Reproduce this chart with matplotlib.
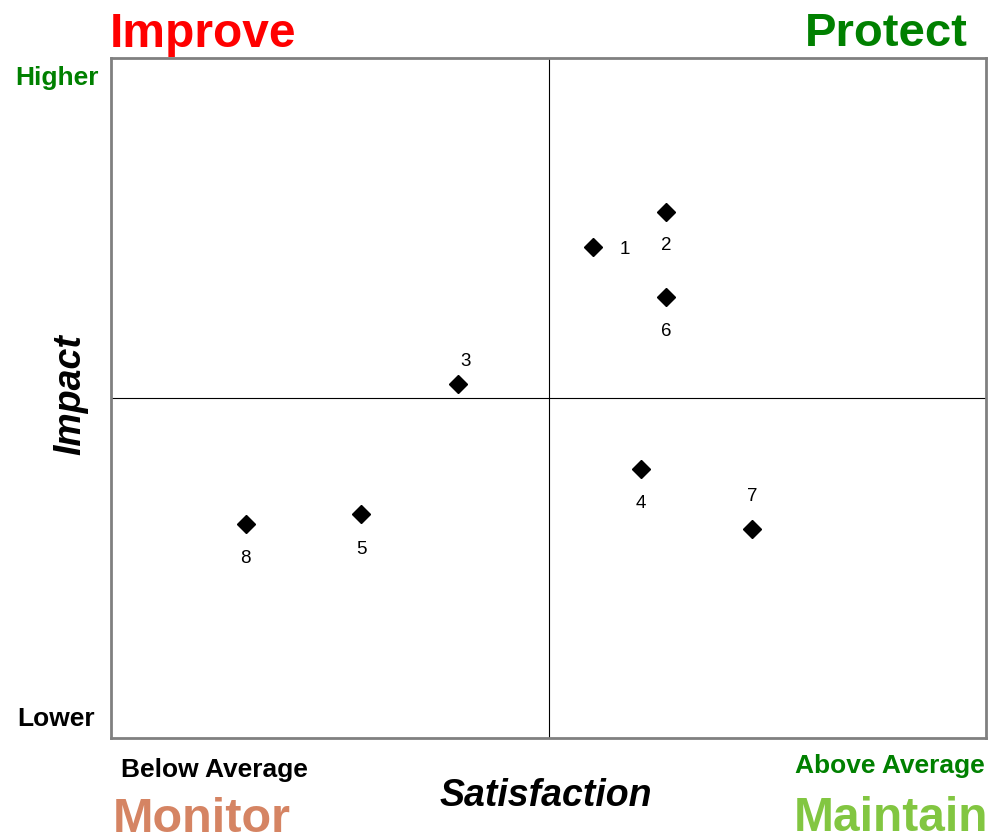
import matplotlib
matplotlib.use("Agg")
import matplotlib.pyplot as plt

plt.rcParams['font.family'] = ['Liberation Sans', 'DejaVu Sans']

labels = ["1", "2", "3", "4", "5", "6", "7", "8"]
satisfaction = [5.51, 6.34, 3.97, 6.06, 2.86, 6.34, 7.33, 1.54]
impact = [7.22, 7.74, 5.21, 3.96, 3.29, 6.49, 3.07, 3.15]
# label offsets in pixels (dx, dy), screen up positive
offsets = {"1": (32, -2), "2": (0, -34), "3": (7, 22), "4": (0, -35),
           "5": (0, -35), "6": (0, -35), "7": (0, 33), "8": (0, -35)}

W, H = 994, 834
fig = plt.figure(figsize=(W / 100, H / 100), dpi=100)
ax = fig.add_axes([111 / W, 1 - 738 / H, 875 / W, 680 / H])
ax.set_xlim(0, 10)
ax.set_ylim(0, 10)
ax.set_xticks([])
ax.set_yticks([])
for s in ax.spines.values():
    s.set_color('#808080')
    s.set_linewidth(2)
ax.axvline(5, color='black', lw=0.8)
ax.axhline(5, color='black', lw=0.8)

ax.plot(satisfaction, impact, linestyle='none', marker='D', markersize=9.5,
        color='black')
for lab, x, y in zip(labels, satisfaction, impact):
    dx, dy = offsets[lab]
    ax.annotate(lab, (x, y), xytext=(dx, dy), textcoords='offset pixels',
                ha='center', va='center', fontsize=13.5)

def ftext(x, y, s, **kw):
    fig.text(x / W, 1 - y / H, s, **kw)

ftext(110, 47, "Improve", color='#FF0000', fontsize=34.5, fontweight='bold',
      ha='left', va='baseline')
ftext(968, 46, "Protect", color='#008000', fontsize=34, fontweight='bold',
      ha='right', va='baseline')
ftext(113, 832, "Monitor", color='#D58463', fontsize=35, fontweight='bold',
      ha='left', va='baseline')
ftext(988, 831, "Maintain", color='#82C641', fontsize=34.5, fontweight='bold',
      ha='right', va='baseline')
ftext(57, 85, "Higher", color='#008000', fontsize=19, fontweight='bold',
      ha='center', va='baseline')
ftext(56, 726, "Lower", color='black', fontsize=19, fontweight='bold',
      ha='center', va='baseline')
ftext(214, 777, "Below Average", color='black', fontsize=19, fontweight='bold',
      ha='center', va='baseline')
ftext(890, 773, "Above Average", color='#008000', fontsize=19,
      fontweight='bold', ha='center', va='baseline')
ftext(546, 806, "Satisfaction", color='black', fontsize=27, fontweight='bold',
      fontstyle='italic', ha='center', va='baseline')
ftext(70, 395, "Impact", color='black', fontsize=27, fontweight='bold',
      fontstyle='italic', ha='center', va='center', rotation=90)

fig.savefig("out.png", dpi=100)
